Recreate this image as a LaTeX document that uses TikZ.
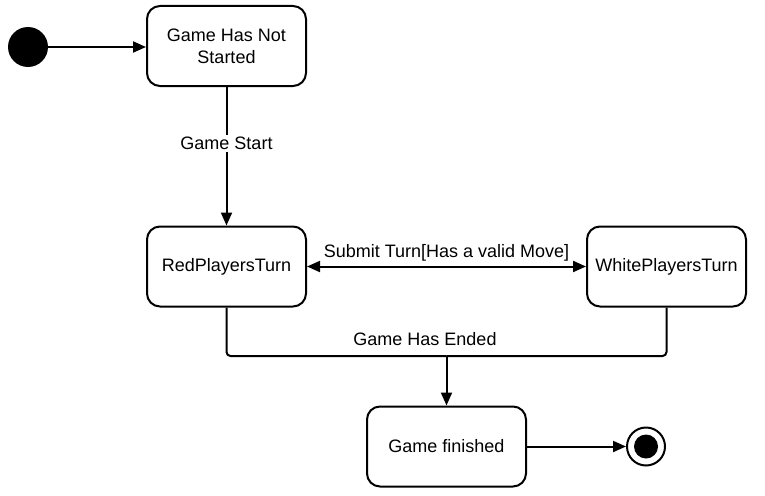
\documentclass[tikz,border=0pt]{standalone}
\usepackage{fontspec}
\setmainfont{Liberation Sans}
\usetikzlibrary{arrows.meta}

\begin{document}
\begin{tikzpicture}[x=1pt, y=-1pt,
statenode/.style={rectangle, rounded corners=13pt, draw=black, line width=2pt, minimum width=159pt, minimum height=80pt, align=center, inner sep=2pt, font=\fontsize{18}{22}\selectfont},
initnode/.style={circle, fill=black, minimum size=40pt, inner sep=0pt},
endnode/.style={circle, draw=black, line width=2pt, fill=white, minimum size=38pt, inner sep=0pt},
lbl/.style={font=\fontsize{18}{22}\selectfont, inner sep=2pt},
trans/.style={line width=2pt, -{Triangle[length=13pt,width=11pt]}}
]
    \useasboundingbox (0,0) rectangle (765,495);

    \node [initnode] (init) at (28,47) {};
    \node [statenode] (notstarted) at (226.5,46) {Game Has Not\\Started};

    \node [statenode] (red) at (226.5,266.5) {RedPlayersTurn};
    \node [statenode] (white) at (666.5,266.5) {WhitePlayersTurn};

    \node [statenode] (finished) at (446.5,446.5) {Game finished};
    \node [endnode] (final) at (646,446.5) {};
    \node [circle, fill=black, minimum size=24pt, inner sep=0pt] (finaldot) at (final) {};

    \coordinate (join) at (446.5,356);

    \draw [trans] (init) -- (notstarted.west |- init);
    \draw [trans] (notstarted) -- node[lbl, fill=white, pos=0.41] {Game Start} (red);
    \draw [line width=2pt, {Triangle[length=13pt,width=11pt]}-{Triangle[length=13pt,width=11pt]}] (red) -- node[lbl, above=2pt] {Submit Turn[Has a valid Move]} (white);
    \draw [line width=2pt, rounded corners=4pt] (red.south) |- (join);
    \draw [line width=2pt, rounded corners=4pt] (white.south) |- (join);
    \node [lbl] (endedlabel) at (425,339) {Game Has Ended};
    \draw [trans] (join) -- (finished);
    \draw [trans] (finished) -- (final);
\end{tikzpicture}
\end{document}
